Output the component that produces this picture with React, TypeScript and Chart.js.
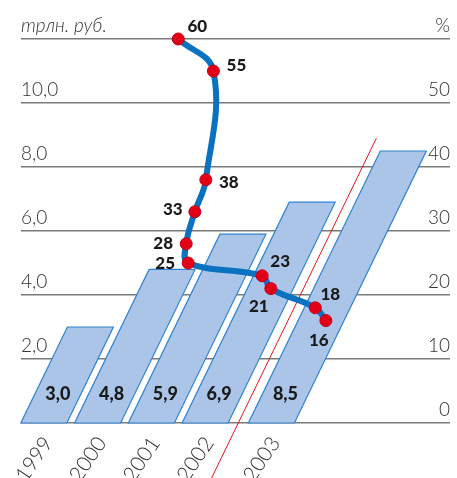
import React, { useEffect, useRef } from 'react';
import { Chart, registerables } from 'chart.js';

Chart.register(...registerables);

// ---- data ----
const years = ['1999', '2000', '2001', '2002', '2003'];
const yearValues = [1999, 2000, 2001, 2002, 2003];
const debtTrln = [3.0, 4.8, 5.9, 6.9, 8.5];
const debtLabels = ['3,0', '4,8', '5,9', '6,9', '8,5'];
const pctValues = [60, 55, 38, 33, 28, 25, 23, 21, 18, 16];
const pctPeriod = [2001.5, 2002.154, 2002.013, 2001.809, 2001.648, 2001.685, 2003.061, 2003.222, 2004.05, 2004.246];
const leftTickLabels = ['', '2,0', '4,0', '6,0', '8,0', '10,0', 'трлн. руб.'];
const rightTickLabels = ['0', '10', '20', '30', '40', '50', '%'];

// ---- style ----
const X_MIN = 1998.575;
const X_MAX = 2006.555;
const SKEW = 0.485;
const BAR_W = 46;
const FORECAST_INDEX = 4;
const FORECAST_GAP = 12.5;
const DIVIDER_TOP = 8.9;
const BAR_FILL = '#abc5e8';
const BAR_BORDER = '#2f82d0';
const LINE_COLOR = '#0a72c0';
const POINT_COLOR = '#e30016';
const GRID_COLOR = '#7a7a7a';
const TEXT_COLOR = '#333333';
const LABEL_COLOR = '#1a1a1a';
const AXIS_FONT = 'Lato, "DejaVu Sans", sans-serif';
const BOLD_FONT = 'Lato, "DejaVu Sans", sans-serif';
// label offsets (dx, dy) of percent labels from their points
const pctLabelOffsets = [
  [19, -12], [23, -5], [23, 3], [-22, -2], [-23, 0], [-23, 1], [18, -14], [-12, 18], [15, -13], [-7, 20],
];
const BAR_LABEL_RISE = 29;
const YEAR_ROT = 56;

const skewPlugin = {
  id: 'skewBars',
  beforeDatasetsDraw(chart: any) {
    const ctx = chart.ctx;
    const meta = chart.getDatasetMeta(1);
    const ys = chart.scales.y;
    const base = ys.getPixelForValue(0);
    ctx.save();
    const centers: number[] = [];
    meta.data.forEach((bar: any, i: number) => {
      const { x, y, width } = bar.getProps(['x', 'y', 'width'], true);
      const cx = x + (i >= FORECAST_INDEX ? FORECAST_GAP : 0);
      centers.push(cx);
      const shift = SKEW * (base - y);
      ctx.beginPath();
      ctx.moveTo(cx - width / 2, base);
      ctx.lineTo(cx + width / 2, base);
      ctx.lineTo(cx + width / 2 + shift, y);
      ctx.lineTo(cx - width / 2 + shift, y);
      ctx.closePath();
      ctx.fillStyle = BAR_FILL;
      ctx.fill();
      ctx.strokeStyle = BAR_BORDER;
      ctx.lineWidth = 1.2;
      ctx.stroke();
    });
    // forecast divider
    const w = BAR_W;
    const xb = ((centers[FORECAST_INDEX - 1] + w / 2) + (centers[FORECAST_INDEX] - w / 2)) / 2;
    const yTop = ys.getPixelForValue(DIVIDER_TOP);
    const yBot = chart.height;
    ctx.beginPath();
    ctx.moveTo(xb + SKEW * (base - yBot), yBot);
    ctx.lineTo(xb + SKEW * (base - yTop), yTop);
    ctx.strokeStyle = '#e8141c';
    ctx.lineWidth = 1;
    ctx.stroke();

    // bar value labels
    ctx.fillStyle = LABEL_COLOR;
    ctx.font = `900 18px ${BOLD_FONT}`;
    ctx.textAlign = 'center';
    ctx.textBaseline = 'middle';
    centers.forEach((cx, i) => {
      ctx.fillText(debtLabels[i], cx + SKEW * BAR_LABEL_RISE, base - BAR_LABEL_RISE);
    });

    // year labels
    ctx.fillStyle = TEXT_COLOR;
    ctx.font = `300 21px ${AXIS_FONT}`;
    ctx.textAlign = 'right';
    ctx.textBaseline = 'middle';
    centers.forEach((cx, i) => {
      ctx.save();
      ctx.translate(cx + 4, base + 16);
      ctx.rotate(-YEAR_ROT * Math.PI / 180);
      ctx.fillText(years[i], 0, 0);
      ctx.restore();
    });
    ctx.restore();
  },
  afterDatasetsDraw(chart: any) {
    const ctx = chart.ctx;
    const meta = chart.getDatasetMeta(0);
    ctx.save();
    ctx.fillStyle = LABEL_COLOR;
    ctx.font = `900 17px ${BOLD_FONT}`;
    ctx.textAlign = 'center';
    ctx.textBaseline = 'middle';
    meta.data.forEach((pt: any, i: number) => {
      const { x, y } = pt.getProps(['x', 'y'], true);
      const [dx, dy] = pctLabelOffsets[i];
      ctx.fillText(String(pctValues[i]), x + dx, y + dy);
    });
    ctx.restore();
  },
};

export default function App() {
  const ref = useRef<HTMLCanvasElement | null>(null);
  useEffect(() => {
    document.body.style.margin = '0';
    const canvas = ref.current;
    if (!canvas) return;
    const chart = new Chart(canvas, {
      type: 'bar',
      data: {
        datasets: [
          {
            type: 'line',
            label: '%',
            data: pctValues.map((v, i) => ({ x: pctPeriod[i], y: v })),
            xAxisID: 'x',
            yAxisID: 'y2',
            tension: 0.4,
            borderColor: LINE_COLOR,
            borderWidth: 6,
            pointRadius: 6,
            pointBackgroundColor: POINT_COLOR,
            pointBorderColor: '#c8001a',
            pointBorderWidth: 1,
            fill: false,
            clip: false,
          } as any,
          {
            type: 'bar',
            label: 'трлн. руб.',
            data: debtTrln.map((v, i) => ({ x: yearValues[i], y: v })),
            xAxisID: 'x',
            yAxisID: 'y',
            backgroundColor: 'rgba(0,0,0,0)',
            borderWidth: 0,
            barThickness: BAR_W,
          } as any,
        ],
      },
      options: {
        responsive: false,
        animation: false,
        events: [],
        layout: { padding: { left: 21, right: 5, top: 39, bottom: 55 } },
        plugins: { legend: { display: false }, tooltip: { enabled: false } },
        scales: {
          x: { type: 'linear', display: false, min: X_MIN, max: X_MAX, offset: false },
          y: {
            position: 'left',
            min: 0,
            max: 12,
            border: { display: false },
            grid: { color: GRID_COLOR, lineWidth: 1.6, drawTicks: false },
            ticks: {
              stepSize: 2,
              mirror: true,
              padding: 0,
              labelOffset: -13,
              color: TEXT_COLOR,
              callback: (_v: any, i: number) => leftTickLabels[i],
              font: (c: any) => ({
                family: AXIS_FONT,
                size: 19,
                weight: 300,
                style: c.tick && c.tick.value === 12 ? 'italic' : 'normal',
              }),
            },
          },
          y2: {
            position: 'right',
            min: 0,
            max: 60,
            border: { display: false },
            grid: { display: false, drawTicks: false },
            ticks: {
              stepSize: 10,
              mirror: true,
              padding: 0,
              labelOffset: -13,
              color: TEXT_COLOR,
              callback: (_v: any, i: number) => rightTickLabels[i],
              font: { family: AXIS_FONT, size: 19, weight: 300 },
            },
          },
        },
      } as any,
      plugins: [skewPlugin],
    });
    return () => chart.destroy();
  }, []);
  return (
    <div style={{ width: 457, height: 478 }}>
      <canvas ref={ref} width={457} height={478} style={{ display: 'block' }} />
    </div>
  );
}
